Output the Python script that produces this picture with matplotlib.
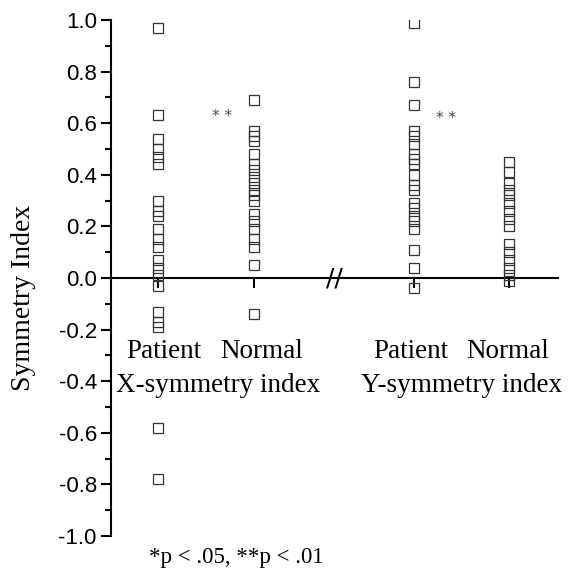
import matplotlib
matplotlib.use("Agg")
import matplotlib.pyplot as plt
from matplotlib.ticker import MultipleLocator, FormatStrFormatter

# ---- data ----
groups = ["Patient X", "Normal X", "Patient Y", "Normal Y"]
patient_x = [0.97, 0.63, 0.54, 0.50, 0.47, 0.44, 0.30, 0.26, 0.24, 0.19, 0.15,
             0.12, 0.07, 0.04, 0.01, -0.03, -0.13, -0.17, -0.19, -0.58, -0.78]
normal_x = [0.69, 0.57, 0.55, 0.53, 0.48, 0.44, 0.42, 0.39, 0.37, 0.34, 0.32,
            0.30, 0.25, 0.22, 0.19, 0.15, 0.12, 0.05, -0.14]
patient_y = [0.99, 0.76, 0.67, 0.57, 0.55, 0.52, 0.48, 0.46, 0.44, 0.40, 0.36,
             0.34, 0.29, 0.27, 0.24, 0.22, 0.19, 0.11, 0.04, -0.04]
normal_y = [0.45, 0.41, 0.37, 0.34, 0.32, 0.29, 0.26, 0.23, 0.20, 0.13, 0.10,
            0.07, 0.04, 0.01, -0.01]
series = [patient_x, normal_x, patient_y, normal_y]
y_ticks = [-1.0, -0.8, -0.6, -0.4, -0.2, 0.0, 0.2, 0.4, 0.6, 0.8, 1.0]
group_labels_top = ["Patient", "Normal", "Patient", "Normal"]
index_labels = ["X-symmetry index", "Y-symmetry index"]
y_label = "Symmetry Index"
footnote = "*p < .05, **p < .01"
sig_marks = ["* *", "* *"]

# ---- layout ----
W, H = 569, 573
fig = plt.figure(figsize=(W / 100, H / 100), dpi=100)
ax = fig.add_axes([110.7 / W, 1 - 536 / H, (558 - 110.7) / W, (536 - 20) / H])

positions = [1.0, 2.0, 3.67, 4.66]
for pos, vals in zip(positions, series):
    ax.plot([pos] * len(vals), vals, linestyle="none", marker="s",
            markersize=6.8, markerfacecolor="none", markeredgecolor="#333333",
            markeredgewidth=0.9, clip_on=True, zorder=3)

ax.set_xlim(0.507, 5.167)
ax.set_ylim(-1.0, 1.0)

ax.spines["top"].set_visible(False)
ax.spines["right"].set_visible(False)
ax.spines["bottom"].set_position(("data", 0.0))
ax.spines["left"].set_linewidth(1.5)
ax.spines["bottom"].set_linewidth(1.5)

ax.set_yticks(y_ticks)
ax.yaxis.set_major_formatter(FormatStrFormatter("%.1f"))
ax.yaxis.set_minor_locator(MultipleLocator(0.1))
ax.tick_params(axis="y", which="major", direction="out", length=7, width=1.5,
               labelsize=16, pad=3)
ax.tick_params(axis="y", which="minor", direction="out", length=4, width=1.5)
for lbl in ax.get_yticklabels():
    lbl.set_fontfamily("Liberation Sans")

ax.set_xticks(positions)
ax.set_xticklabels([])
ax.tick_params(axis="x", which="major", direction="out", length=7, width=1.5)

# break symbol on x axis
ax.text(2.84, 0.0, "//", ha="center", va="center", fontsize=18,
        fontfamily="DejaVu Sans", color="black", zorder=4)

# significance marks
ax.text(1.67, 0.625, sig_marks[0], ha="center", va="center", fontsize=11,
        color="#444444", fontfamily="DejaVu Sans")
ax.text(4.0, 0.62, sig_marks[1], ha="center", va="center", fontsize=11,
        color="#444444", fontfamily="DejaVu Sans")

serif = "Liberation Serif"
def fx(px):
    return px / W
def fy(py):
    return 1 - py / H

label_x_px = [164, 262, 411, 508]
for xp, t in zip(label_x_px, group_labels_top):
    fig.text(fx(xp), fy(352), t, ha="center", va="center", fontsize=19.5,
             fontfamily=serif)
fig.text(fx(218), fy(385), index_labels[0], ha="center", va="center",
         fontsize=19.5, fontfamily=serif)
fig.text(fx(462), fy(385), index_labels[1], ha="center", va="center",
         fontsize=19.5, fontfamily=serif)

fig.text(fx(24), fy(298), y_label, ha="center", va="center", rotation=90,
         fontsize=20, fontfamily=serif)
fig.text(fx(236), fy(557), footnote, ha="center", va="center", fontsize=16.5,
         fontfamily=serif)

fig.savefig("out.png", dpi=100)
